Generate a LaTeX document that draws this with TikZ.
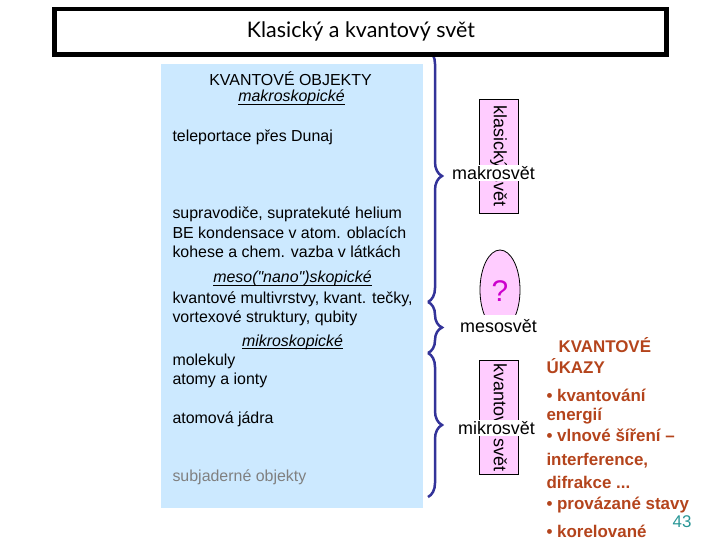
\documentclass[tikz,border=0pt]{standalone}
\usepackage{fontspec}
\setmainfont{Liberation Sans}
\newfontfamily\titlefont{Lato}
\usetikzlibrary{decorations.pathreplacing}

\definecolor{boxblue}{RGB}{204,233,255}
\definecolor{bracecol}{RGB}{51,51,153}
\definecolor{pinkfill}{RGB}{255,204,255}
\definecolor{qmark}{RGB}{204,0,204}
\definecolor{effects}{RGB}{180,68,28}
\definecolor{pagenum}{RGB}{40,150,150}

\newcommand{\fs}[1]{\fontsize{#1}{#1}\selectfont}

\begin{document}
\begin{tikzpicture}[x=1bp, y=-1bp,
  objtext/.style={anchor=base west, font=\fs{16}},
  scaletext/.style={anchor=base, inner sep=0pt, font=\fs{16}\itshape},
  scaleline/.style={line width=0.8bp},
  effecttext/.style={anchor=base west, font=\fs{17}\bfseries, text=effects},
  worldbrace/.style={draw=bracecol, line width=2.5bp, decorate,
    decoration={brace, amplitude=14bp}},
  pinkbox/.style={draw=black, line width=0.8bp, fill=pinkfill, rotate=-90,
    minimum width=114bp, minimum height=39bp, inner sep=0pt, font=\fs{18}},
  worldlabel/.style={fill=white, inner sep=1bp, font=\fs{18}}]

  \useasboundingbox (0,0) rectangle (720,540);

  % --- 1. modry panel s objekty ---
  \fill[boxblue] (161,64) rectangle (423,508);

  \node[anchor=base, font=\fs{16}] (kvobj) at (290.5,86) {KVANTOVÉ OBJEKTY};
  \node[scaletext] (makro) at (291.5,102) {makroskopické};
  \node[objtext] (telep) at (169,142) {teleportace přes Dunaj};
  \node[objtext] (suprav) at (169,219) {supravodiče, supratekuté helium};
  \node[objtext] (bec) at (169,239) {BE kondensace v atom. oblacích};
  \node[objtext] (kohese) at (169,258) {kohese a chem. vazba v látkách};
  \node[scaletext] (meso) at (292.5,283) {meso(\textquotedbl nano\textquotedbl)skopické};
  \node[objtext] (multi) at (169,303) {kvantové multivrstvy, kvant. tečky,};
  \node[objtext] (vortex) at (169,322) {vortexové struktury, qubity};
  \node[scaletext] (mikro) at (292.5,346) {mikroskopické};
  \node[objtext] (molek) at (169,365) {molekuly};
  \node[objtext] (atomy) at (169,384) {atomy a ionty};
  \node[objtext] (jadra) at (169,423) {atomová jádra};
  \node[objtext, text=gray] (subjad) at (169,481) {subjaderné objekty};

  % podtrzeni nadpisu skupin
  \foreach \s in {makro, meso, mikro}
    \draw[scaleline] ([yshift=-2.5bp]\s.base west) -- ([yshift=-2.5bp]\s.base east);

  % --- 2. svorky ---
  \coordinate (b0) at (428,50);
  \coordinate (b1) at (428,302);
  \coordinate (b2) at (428,353);
  \coordinate (b3) at (428,497);
  \draw[worldbrace] (b0) -- (b1);
  \draw[worldbrace] (b1) -- (b2);
  \draw[worldbrace] (b2) -- (b3);

  % --- 3. nadpis ---
  \draw[line width=4.5bp, fill=white] (54.5,9) rectangle (666.5,54.5);
  \node[font=\titlefont\fs{21.5}] (title) at (361,31) {Klasický a kvantový svět};

  % --- 4. klasicky / kvantovy svet ---
  \node[pinkbox] (klas) at (498.5,156) {klasický svět};
  \draw[line width=0.8bp, fill=pinkfill] (500,290) ellipse [x radius=20, y radius=40];
  \node[font=\fs{30}, text=qmark] (otaz) at (500,291) {?};
  \node[pinkbox] (kvant) at (498.5,417.5) {kvantový svět};

  \node[worldlabel] (makrosvet) at (493.5,173) {makrosvět};
  \node[worldlabel, minimum height=22bp] (mesosvet) at (498.5,326) {mesosvět};
  \node[worldlabel] (mikrosvet) at (496.5,428) {mikrosvět};

  % --- 5. kvantove ukazy ---
  \node[effecttext] (uk1) at (555,352) {KVANTOVÉ};
  \node[effecttext] (uk2) at (543,373) {ÚKAZY};
  \node[effecttext] (uk3) at (543,401) {\textbullet\ kvantování};
  \node[effecttext] (uk4) at (543,420) {energií};
  \node[effecttext] (uk5) at (543,441) {\textbullet\ vlnové šíření --};
  \node[effecttext] (uk6) at (543,465) {interference,};
  \node[effecttext] (uk7) at (543,488) {difrakce ...};
  \node[effecttext] (uk8) at (543,509) {\textbullet\ provázané stavy};
  \node[effecttext] (uk9) at (543,537) {\textbullet\ korelované};

  \node[anchor=base east, font=\fs{17}, text=pagenum] (num) at (695,527) {43};

\end{tikzpicture}
\end{document}
